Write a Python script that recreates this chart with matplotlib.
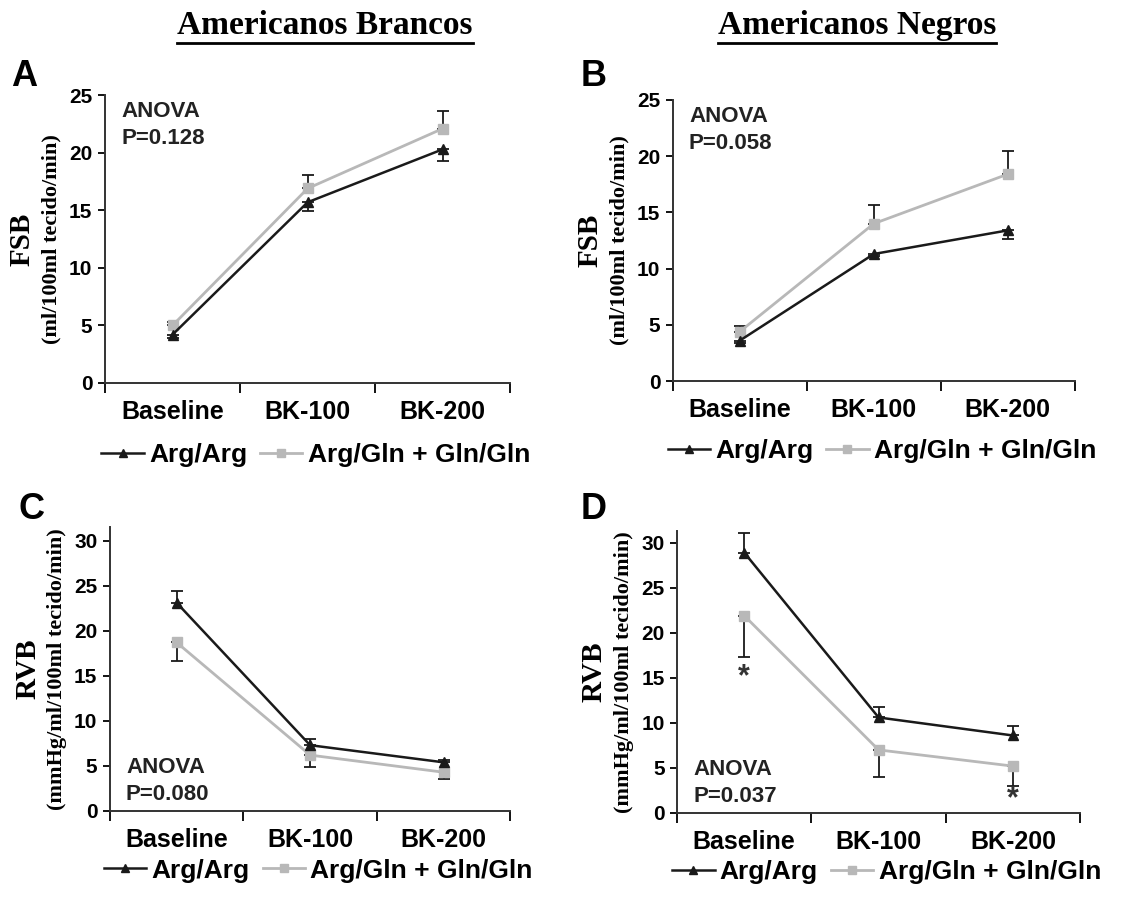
import numpy as np
import matplotlib
matplotlib.use("Agg")
import matplotlib.pyplot as plt
from matplotlib.lines import Line2D

plt.rcParams['font.family'] = ['Liberation Sans', 'DejaVu Sans']
plt.rcParams['font.weight'] = 'bold'

# ---- data ----
categories = ["Baseline", "BK-100", "BK-200"]
series_names = ["Arg/Arg", "Arg/Gln + Gln/Gln"]

a_arg = [4.2, 15.7, 20.3]
a_arg_err = [0.3, 0.8, 1.0]
a_gln = [5.0, 16.9, 22.1]
a_gln_err = [0.3, 1.2, 1.5]

b_arg = [3.6, 11.3, 13.4]
b_arg_err = [0.2, 0.2, 0.8]
b_gln = [4.4, 14.0, 18.4]
b_gln_err = [0.5, 1.7, 2.1]

c_arg = [23.1, 7.3, 5.4]
c_arg_err = [1.3, 0.7, 0.3]
c_gln = [18.7, 6.2, 4.3]
c_gln_err = [2.1, 1.3, 0.7]

d_arg = [28.9, 10.6, 8.6]
d_arg_err = [2.2, 1.2, 1.0]
d_gln = [21.9, 7.0, 5.2]
d_gln_err = [4.6, 3.0, 2.2]

anova_p = ["P=0.128", "P=0.058", "P=0.080", "P=0.037"]
d_star_idx = [0, 2]
d_star_y = [15.1, 1.5]

BLACK = '#1a1a1a'
GRAY = '#b8b8b8'
SERIF = ['Liberation Serif', 'DejaVu Serif']

fig = plt.figure(figsize=(11.29, 8.98), dpi=100)


def panel(rect, arg, arg_err, gln, gln_err, arg_up, ylim, yticks,
          ylab, ylab2, anova, anova_top, letter, letter_xy, leg_y):
    ax = fig.add_axes(rect)
    x = np.arange(len(categories)) + 0.5
    # one-sided error bars like the original (Excel style)
    z = [0] * len(arg)
    if arg_up:
        a_err = [z, arg_err]
        g_err = [gln_err, z]
    else:
        a_err = [arg_err, z]
        g_err = [z, gln_err]
    ax.errorbar(x, gln, yerr=g_err, color=GRAY, marker='s', ms=7, lw=2,
                ecolor=BLACK, elinewidth=1.3, capsize=4, capthick=1.3,
                zorder=2)
    ax.errorbar(x, arg, yerr=a_err, color=BLACK, marker='^', ms=7, lw=1.8,
                ecolor=BLACK, elinewidth=1.3, capsize=4, capthick=1.3,
                zorder=3)
    ax.set_xlim(0, 3)
    ax.set_ylim(*ylim)
    ax.set_yticks(yticks)
    ax.set_xticks([0, 1, 2, 3])
    ax.set_xticklabels([])
    ax.set_xticks(x, minor=True)
    ax.set_xticklabels(categories, minor=True, fontsize=18, fontweight='bold')
    ax.tick_params(axis='x', which='major', length=7, width=1.3, direction='out')
    ax.tick_params(axis='x', which='minor', length=0, pad=12)
    ax.tick_params(axis='y', length=5, width=1.3, labelsize=15, pad=4)
    for lab in ax.get_yticklabels():
        lab.set_fontweight('bold')
    for s in ['top', 'right']:
        ax.spines[s].set_visible(False)
    for s in ['left', 'bottom']:
        ax.spines[s].set_linewidth(1.4)
        ax.spines[s].set_color('#333333')

    if anova_top:
        ax.text(0.04, 0.98, "ANOVA\n" + anova, transform=ax.transAxes,
                ha='left', va='top', fontsize=16, fontweight='bold',
                linespacing=1.4, color='#222222')
    else:
        ax.text(0.04, 0.02, "ANOVA\n" + anova, transform=ax.transAxes,
                ha='left', va='bottom', fontsize=16, fontweight='bold',
                linespacing=1.4, color='#222222')

    # y labels: big abbreviation + units below
    ax.text(-0.205, 0.5, ylab, transform=ax.transAxes, rotation=90,
            ha='center', va='center', fontsize=21, fontweight='bold',
            family=SERIF)
    ax.text(-0.132, 0.5, ylab2, transform=ax.transAxes, rotation=90,
            ha='center', va='center', fontsize=16, fontweight='bold',
            family=SERIF)

    handles = [Line2D([], [], color=BLACK, marker='^', ms=6, lw=1.8),
               Line2D([], [], color=GRAY, marker='s', ms=6, lw=2)]
    ax.legend(handles, series_names,
              loc='center', bbox_to_anchor=(0.52, leg_y), ncol=2,
              frameon=False, handlelength=1.6,
              handletextpad=0.2, columnspacing=0.5,
              prop={'weight': 'bold', 'size': 19})

    fig.text(letter_xy[0], letter_xy[1], letter, fontsize=26,
             fontweight='bold', ha='left', va='center')
    return ax


ax_a = panel([0.093, 0.5735, 0.359, 0.3205], a_arg, a_arg_err, a_gln, a_gln_err,
             False, (0, 25), [0, 5, 10, 15, 20, 25], "FSB",
             "(ml/100ml tecido/min)", anova_p[0], True, "A", (0.010, 0.915), -0.25)
ax_b = panel([0.596, 0.5757, 0.356, 0.313], b_arg, b_arg_err, b_gln, b_gln_err,
             False, (0, 25), [0, 5, 10, 15, 20, 25], "FSB",
             "(ml/100ml tecido/min)", anova_p[1], True, "B", (0.514, 0.915), -0.25)
ax_c = panel([0.0974, 0.0969, 0.3546, 0.3161], c_arg, c_arg_err, c_gln, c_gln_err,
             True, (0, 31.5), [0, 5, 10, 15, 20, 25, 30], "RVB",
             "(mmHg/ml/100ml tecido/min)", anova_p[2], False, "C", (0.016, 0.433), -0.21)
ax_d = panel([0.5997, 0.0947, 0.357, 0.314], d_arg, d_arg_err, d_gln, d_gln_err,
             True, (0, 31.3), [0, 5, 10, 15, 20, 25, 30], "RVB",
             "(mmHg/ml/100ml tecido/min)", anova_p[3], False, "D", (0.514, 0.433), -0.21)

for i, yv in zip(d_star_idx, d_star_y):
    ax_d.text(i + 0.5, yv, "*", ha='center', va='center', fontsize=22,
              fontweight='bold', color='#333333')

# underlined column titles
titles = [("Americanos Brancos", 0.288), ("Americanos Negros", 0.759)]
fig.canvas.draw()
renderer = fig.canvas.get_renderer()
for title, xc in titles:
    t = fig.text(xc, 0.972, title, ha='center', va='center', fontsize=24,
                 fontweight='bold', family=SERIF)
    bb = t.get_window_extent(renderer=renderer).transformed(fig.transFigure.inverted())
    fig.add_artist(Line2D([bb.x0, bb.x1], [bb.y0 - 0.003, bb.y0 - 0.003],
                          transform=fig.transFigure, color='black', lw=2))

fig.savefig("out.png", dpi=100)
